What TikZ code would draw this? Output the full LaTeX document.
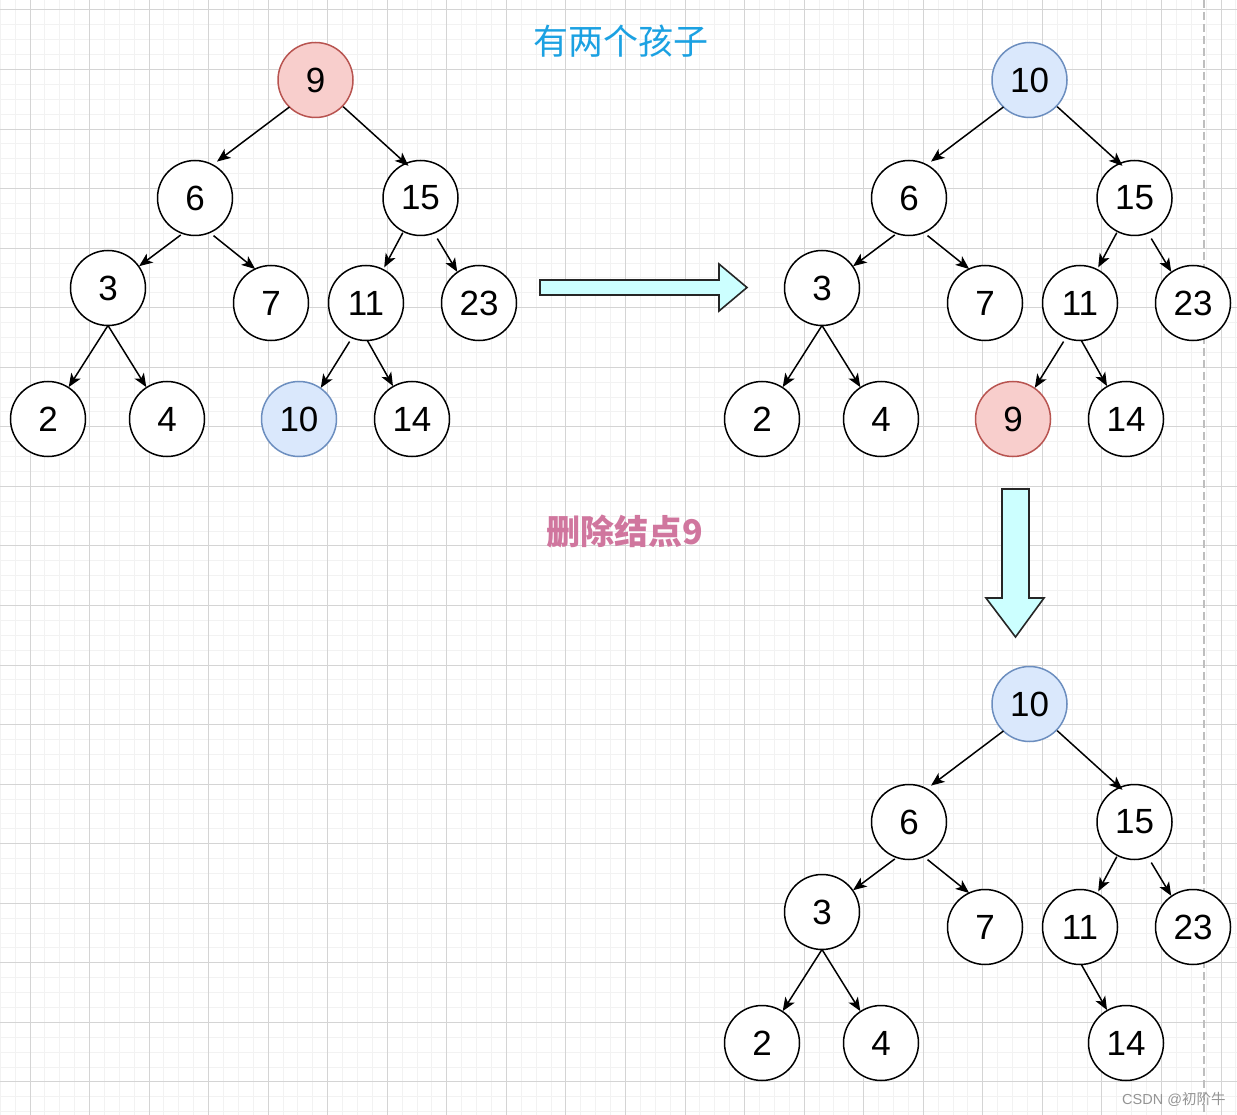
\documentclass[tikz,border=0pt]{standalone}
\usepackage{fontspec}
\setmainfont{Liberation Sans}
\newfontfamily\cjk{Noto Sans CJK SC}
\usetikzlibrary{arrows.meta}
\definecolor{redfill}{HTML}{F8CECC}
\definecolor{redline}{HTML}{B85450}
\definecolor{bluefill}{HTML}{DAE8FC}
\definecolor{blueline}{HTML}{6C8EBF}
\definecolor{arrowfill}{HTML}{CCFFFF}
\definecolor{titleblue}{HTML}{1BA1E2}
\definecolor{titlepink}{RGB}{208,118,158}
\definecolor{gridmajor}{RGB}{212,212,212}
\definecolor{gridminor}{RGB}{242,242,242}
\definecolor{dashgray}{RGB}{190,190,190}
\newcommand\edg[6]{\draw[arr,shorten <=#5pt,shorten >=#6pt] (#1.#2) -- (#3.#4);}
\begin{document}
\begin{tikzpicture}[x=1pt,y=-1pt,
  circ/.style={circle,draw=black,fill=white,line width=1.5pt,minimum size=75pt,inner sep=0pt,outer sep=0pt,font=\fontsize{35}{40}\selectfont},
  rednode/.style={circ,draw=redline,fill=redfill},
  bluenode/.style={circ,draw=blueline,fill=bluefill},
  arr/.style={line width=1.5pt,-{Stealth[length=13.5pt,width=11pt,inset=3.5pt]}},
  bigarrow/.style={draw=black!85,line width=1.6pt,fill=arrowfill,line join=miter}]
\useasboundingbox (0,0) rectangle (1237,1115);
\fill[white] (0,0) rectangle (1237,1115);
% grid
\foreach \k in {-2,...,81}{\draw[gridminor,line width=1pt] ({30+\k*14.8875},0) -- ({30+\k*14.8875},1115);}
\foreach \k in {-1,...,74}{\draw[gridminor,line width=1pt] (0,{10+\k*14.8875}) -- (1237,{10+\k*14.8875});}
\foreach \k in {0,...,20}{\draw[gridmajor,line width=1pt] ({30+\k*59.55},0) -- ({30+\k*59.55},1115);}
\foreach \k in {0,...,18}{\draw[gridmajor,line width=1pt] (0,{10+\k*59.55}) -- (1237,{10+\k*59.55});}
\draw[dashgray,line width=1.6pt,dash pattern=on 8pt off 4pt] (1204,0) -- (1204,1115);
% texts
\node[font=\cjk\fontsize{35}{40}\selectfont,text=titleblue] (title) at (621,41) {有两个孩子};
\node[font=\cjk\bfseries\fontsize{34}{40}\selectfont,text=titlepink] (del) at (625,532) {删除结点9};
\node[anchor=west,font=\fontsize{14.5}{16}\selectfont,text=black!42,inner sep=0pt] (wm) at (1122,1099) {CSDN @{\cjk 初阶牛}};
% big arrows
\draw[bigarrow] (540,280) -- (719,280) -- (719,264) -- (747,287.5) -- (719,311) -- (719,295) -- (540,295) -- cycle;
\draw[bigarrow] (1002,489) -- (1029,489) -- (1029,598) -- (1044,598) -- (1015.5,637) -- (986,598) -- (1002,598) -- cycle;
% tree 1
\node[rednode] (a9) at (315.5,80) {9};
\node[circ] (a6) at (195,198) {6};
\node[circ] (a15) at (420.5,198) {15};
\node[circ] (a3) at (108,288) {3};
\node[circ] (a7) at (271,303) {7};
\node[circ] (a11) at (366,303) {11};
\node[circ] (a23) at (479,303) {23};
\node[circ] (a2) at (48,419) {2};
\node[circ] (a4) at (167,419) {4};
\node[bluenode] (a10) at (299,419) {10};
\node[circ] (a14) at (412,419) {14};
\edg{a9}{226}{a6}{62}{0}{5.5}
\edg{a9}{316}{a15}{113}{1}{-3.5}
\edg{a6}{251}{a3}{35}{2.5}{0.5}
\edg{a6}{293.5}{a7}{115}{5}{0}
\edg{a15}{243}{a11}{63}{1.5}{2.5}
\edg{a15}{291}{a23}{125}{6.5}{0.5}
\edg{a3}{270}{a2}{57}{0}{0.5}
\edg{a3}{270}{a4}{123}{0}{0.5}
\edg{a11}{248}{a10}{55}{4.5}{0.5}
\edg{a11}{272}{a14}{120}{0.5}{0.5}
% tree 2
\node[bluenode] (b10) at (1029.5,80) {10};
\node[circ] (b6) at (909,198) {6};
\node[circ] (b15) at (1134.5,198) {15};
\node[circ] (b3) at (822,288) {3};
\node[circ] (b7) at (985,303) {7};
\node[circ] (b11) at (1080,303) {11};
\node[circ] (b23) at (1193,303) {23};
\node[circ] (b2) at (762,419) {2};
\node[circ] (b4) at (881,419) {4};
\node[rednode] (b9) at (1013,419) {9};
\node[circ] (b14) at (1126,419) {14};
\edg{b10}{226}{b6}{62}{0}{5.5}
\edg{b10}{316}{b15}{113}{1}{-3.5}
\edg{b6}{251}{b3}{35}{2.5}{0.5}
\edg{b6}{293.5}{b7}{115}{5}{0}
\edg{b15}{243}{b11}{63}{1.5}{2.5}
\edg{b15}{291}{b23}{125}{6.5}{0.5}
\edg{b3}{270}{b2}{57}{0}{0.5}
\edg{b3}{270}{b4}{123}{0}{0.5}
\edg{b11}{248}{b9}{55}{4.5}{0.5}
\edg{b11}{272}{b14}{120}{0.5}{0.5}
% tree 3
\node[bluenode] (c10) at (1029.5,704) {10};
\node[circ] (c6) at (909,822) {6};
\node[circ] (c15) at (1134.5,822) {15};
\node[circ] (c3) at (822,912) {3};
\node[circ] (c7) at (985,927) {7};
\node[circ] (c11) at (1080,927) {11};
\node[circ] (c23) at (1193,927) {23};
\node[circ] (c2) at (762,1043) {2};
\node[circ] (c4) at (881,1043) {4};
\node[circ] (c14) at (1126,1043) {14};
\edg{c10}{226}{c6}{62}{0}{5.5}
\edg{c10}{316}{c15}{113}{1}{-3.5}
\edg{c6}{251}{c3}{35}{2.5}{0.5}
\edg{c6}{293.5}{c7}{115}{5}{0}
\edg{c15}{243}{c11}{63}{1.5}{2.5}
\edg{c15}{291}{c23}{125}{6.5}{0.5}
\edg{c3}{270}{c2}{57}{0}{0.5}
\edg{c3}{270}{c4}{123}{0}{0.5}
\edg{c11}{272}{c14}{120}{0.5}{0.5}
\end{tikzpicture}
\end{document}
